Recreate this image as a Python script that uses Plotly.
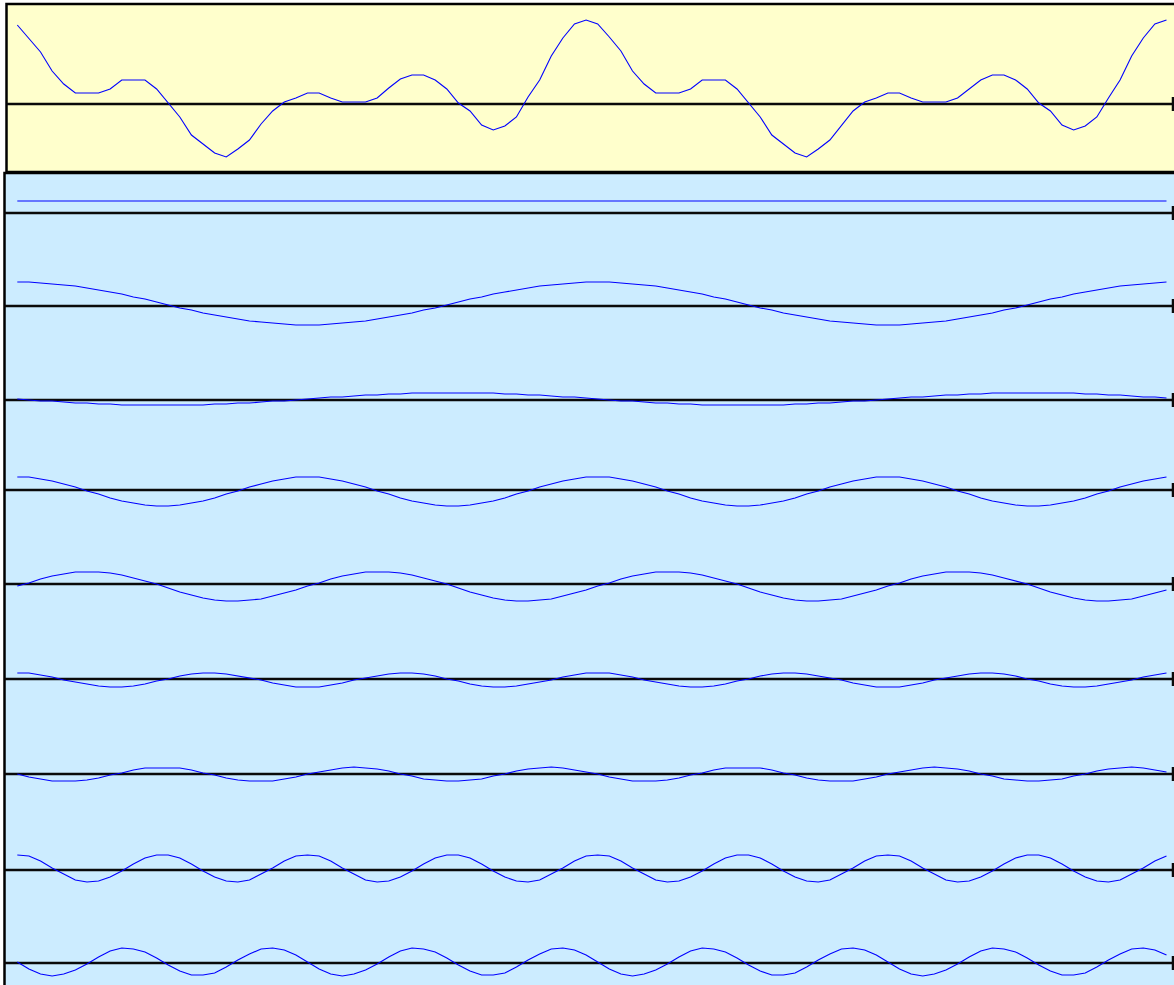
import plotly.graph_objects as go

# ---------------- data (values in pixels above each row's zero line) ----------------
samples = list(range(100))

signal = [79, 66, 52, 33, 20, 11, 11, 11, 15, 24,
          24, 24, 15, 1, -13, -31, -40, -49, -53, -45,
          -36, -20, -7, 2, 6, 11, 11, 6, 2, 2,
          2, 6, 16, 25, 29, 29, 24, 15, 1, -7,
          -21, -26, -22, -13, 7, 24, 48, 66, 80, 84,
          80, 67, 53, 33, 20, 11, 11, 11, 15, 24,
          24, 24, 15, 1, -13, -31, -40, -49, -53, -45,
          -36, -21, -7, 2, 6, 11, 11, 6, 2, 2,
          2, 6, 15, 24, 29, 29, 24, 15, 1, -7,
          -21, -26, -22, -13, 6, 24, 48, 66, 80, 84]

dc_term = [12, 12, 12, 12, 12, 12, 12, 12, 12, 12,
           12, 12, 12, 12, 12, 12, 12, 12, 12, 12,
           12, 12, 12, 12, 12, 12, 12, 12, 12, 12,
           12, 12, 12, 12, 12, 12, 12, 12, 12, 12,
           12, 12, 12, 12, 12, 12, 12, 12, 12, 12,
           12, 12, 12, 12, 12, 12, 12, 12, 12, 12,
           12, 12, 12, 12, 12, 12, 12, 12, 12, 12,
           12, 12, 12, 12, 12, 12, 12, 12, 12, 12,
           12, 12, 12, 12, 12, 12, 12, 12, 12, 12,
           12, 12, 12, 12, 12, 12, 12, 12, 12, 12]

cos1 = [24, 24, 23, 22, 21, 20, 18, 16, 14, 12,
        9, 7, 4, 1, -2, -4, -7, -9, -11, -13,
        -15, -16, -17, -18, -19, -19, -19, -18, -17, -16,
        -15, -13, -11, -9, -7, -4, -2, 1, 4, 7,
        9, 12, 14, 16, 18, 20, 21, 22, 23, 24,
        24, 24, 23, 22, 21, 20, 18, 16, 14, 12,
        9, 7, 4, 1, -2, -4, -7, -9, -11, -13,
        -15, -16, -17, -18, -19, -19, -19, -18, -17, -16,
        -15, -13, -11, -9, -7, -4, -2, 1, 4, 7,
        9, 12, 14, 16, 18, 20, 21, 22, 23, 24]

sin1 = [1, 0, -1, -1, -2, -3, -3, -4, -4, -5,
        -5, -5, -5, -5, -5, -5, -5, -4, -4, -3,
        -3, -2, -1, -1, 0, 1, 2, 3, 3, 4,
        5, 5, 6, 6, 7, 7, 7, 7, 7, 7,
        7, 7, 6, 6, 5, 5, 4, 3, 3, 2,
        1, 0, -1, -1, -2, -3, -3, -4, -4, -5,
        -5, -5, -5, -5, -5, -5, -5, -4, -4, -3,
        -3, -2, -1, -1, 0, 1, 2, 3, 3, 4,
        5, 5, 6, 6, 7, 7, 7, 7, 7, 7,
        7, 7, 6, 6, 5, 5, 4, 3, 3, 2]

cos2 = [13, 13, 11, 9, 6, 3, -1, -4, -8, -11, -13, -15, -16, -16, -15, -13, -11, -8, -4, -1, 3, 6, 9, 11, 13,
        13, 13, 11, 9, 6, 3, -1, -4, -8, -11, -13, -15, -16, -16, -15, -13, -11, -8, -4, -1, 3, 6, 9, 11, 13,
        13, 13, 11, 9, 6, 3, -1, -4, -8, -11, -13, -15, -16, -16, -15, -13, -11, -8, -4, -1, 3, 6, 9, 11, 13,
        13, 13, 11, 9, 6, 3, -1, -4, -8, -11, -13, -15, -16, -16, -15, -13, -11, -8, -4, -1, 3, 6, 9, 11, 13]

sin2 = [-2, 1, 5, 8, 10, 12, 12, 12, 11, 9, 6, 3, 0, -4, -8, -11, -14, -16, -17, -17, -16, -15, -12, -9, -6,
        -2, 1, 5, 8, 10, 12, 12, 12, 11, 9, 6, 3, 0, -4, -8, -11, -14, -16, -17, -17, -16, -15, -12, -9, -6,
        -2, 1, 5, 8, 10, 12, 12, 12, 11, 9, 6, 3, 0, -4, -8, -11, -14, -16, -17, -17, -16, -15, -12, -9, -6,
        -2, 1, 5, 8, 10, 12, 12, 12, 11, 9, 6, 3, 0, -4, -8, -11, -14, -16, -17, -17, -16, -15, -12, -9, -6]

cos3 = [6, 6, 4, 2, -1, -3, -5, -7, -8, -8,
        -7, -5, -2, 0, 3, 5, 6, 6, 5, 3,
        1, -1, -4, -6, -8, -8, -8, -6, -4, -1,
        1, 3, 5, 6, 6, 5, 3, 0, -2, -5,
        -7, -8, -8, -7, -5, -3, -1, 2, 4, 6,
        6, 6, 4, 2, -1, -3, -5, -7, -8, -8,
        -7, -5, -2, 0, 3, 5, 6, 6, 5, 3,
        1, -1, -4, -6, -8, -8, -8, -6, -4, -1,
        1, 3, 5, 6, 6, 5, 3, 0, -2, -5,
        -7, -8, -8, -7, -5, -3, -1, 2, 4, 6]

sin3 = [0, -3, -5, -7, -7, -7, -6, -4, -1, 1,
        4, 6, 6, 6, 6, 4, 1, -1, -4, -6,
        -7, -7, -7, -5, -3, 0, 2, 4, 6, 7,
        6, 5, 3, 0, -2, -5, -6, -7, -7, -6,
        -5, -2, 0, 3, 5, 6, 7, 6, 4, 2,
        0, -3, -5, -7, -7, -7, -6, -4, -1, 1,
        4, 6, 6, 6, 6, 4, 1, -1, -4, -6,
        -7, -7, -7, -5, -3, 0, 2, 4, 6, 7,
        6, 5, 3, 0, -2, -5, -6, -7, -7, -6,
        -5, -2, 0, 3, 5, 6, 7, 6, 4, 2]

cos4 = [15, 14, 9, 2, -4, -10, -12, -11, -7, -1, 6, 12, 15, 15, 12, 6, -1, -7, -11, -12, -10, -4, 2, 9, 14,
        15, 14, 9, 2, -4, -10, -12, -11, -7, -1, 6, 12, 15, 15, 12, 6, -1, -7, -11, -12, -10, -4, 2, 9, 14,
        15, 14, 9, 2, -4, -10, -12, -11, -7, -1, 6, 12, 15, 15, 12, 6, -1, -7, -11, -12, -10, -4, 2, 9, 14,
        15, 14, 9, 2, -4, -10, -12, -11, -7, -1, 6, 12, 15, 15, 12, 6, -1, -7, -11, -12, -10, -4, 2, 9, 14]

sin4 = [1, -6, -11, -13, -11, -7, -1, 6, 12, 15, 14, 11, 5, -2, -8, -12, -12, -10, -4, 3, 9, 14, 15, 13, 8,
        1, -6, -11, -13, -11, -7, -1, 6, 12, 15, 14, 11, 5, -2, -8, -12, -12, -10, -4, 3, 9, 14, 15, 13, 8,
        1, -6, -11, -13, -11, -7, -1, 6, 12, 15, 14, 11, 5, -2, -8, -12, -12, -10, -4, 3, 9, 14, 15, 13, 8,
        1, -6, -11, -13, -11, -7, -1, 6, 12, 15, 14, 11, 5, -2, -8, -12, -12, -10, -4, 3, 9, 14, 15, 13, 8]

rows = [signal, dc_term, cos1, sin1, cos2, sin2, cos3, sin3, cos4, sin4]

# ---------------- layout geometry (pixels) ----------------
W, H = 1174, 985
zero_px = [104, 213, 306, 400, 490, 584, 679, 774, 870, 963]
X0_PX, STEP_PX = 17.3, 11.608

def fx(px):
    return px / W

def fy(py):
    return 1 - py / H

YELLOW = "#FFFFCC"
BLUE_BG = "#CCECFF"
LINE_BLUE = "#0000FF"
AXIS_COLOR = "#0a0a0a"

fig = go.Figure()
shapes = [
    dict(type="rect", xref="paper", yref="paper", layer="below",
         x0=fx(4.5), x1=fx(1200), y0=fy(173), y1=fy(1010),
         fillcolor=BLUE_BG, line=dict(color="black", width=2.5)),
    dict(type="rect", xref="paper", yref="paper", layer="below",
         x0=fx(6.5), x1=fx(1200), y0=fy(4), y1=fy(172),
         fillcolor=YELLOW, line=dict(color="black", width=2.5)),
]

layout_axes = {}
for i, (vals, zp) in enumerate(zip(rows, zero_px)):
    ax_ref = "y" if i == 0 else f"y{i + 1}"
    ax_key = "yaxis" if i == 0 else f"yaxis{i + 1}"
    ax = dict(range=[zp - H, zp], visible=False, fixedrange=True, domain=[0, 1])
    if i > 0:
        ax["overlaying"] = "y"
    layout_axes[ax_key] = ax
    left = 6.5 if i == 0 else 4.5
    shapes.append(dict(type="line", xref="paper", yref=ax_ref, layer="below",
                       x0=fx(left), x1=fx(1174), y0=0, y1=0,
                       line=dict(color=AXIS_COLOR, width=2.5)))
    shapes.append(dict(type="line", xref="paper", yref=ax_ref, layer="below",
                       x0=fx(1173), x1=fx(1173), y0=-7, y1=7,
                       line=dict(color=AXIS_COLOR, width=2.5)))
    fig.add_trace(go.Scatter(x=samples, y=vals, yaxis=ax_ref, mode="lines",
                             line=dict(color=LINE_BLUE, width=1.1),
                             hoverinfo="skip", showlegend=False))

x_lo = -X0_PX / STEP_PX
x_hi = x_lo + W / STEP_PX

fig.update_layout(
    width=W, height=H,
    margin=dict(l=0, r=0, t=0, b=0, pad=0),
    paper_bgcolor="white",
    plot_bgcolor="rgba(0,0,0,0)",
    showlegend=False,
    xaxis=dict(range=[x_lo, x_hi], visible=False, fixedrange=True, domain=[0, 1]),
    shapes=shapes,
    **layout_axes,
)

fig.write_html("out.html", config={"displayModeBar": False},
               post_script="document.body.style.margin='0px';document.body.style.overflow='hidden';")
